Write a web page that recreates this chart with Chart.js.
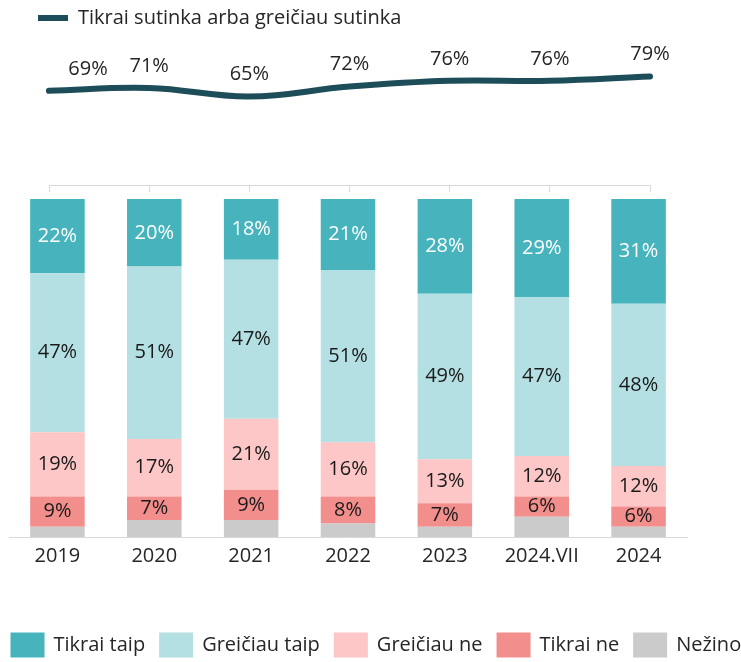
<!DOCTYPE html>
<html><head><meta charset="utf-8">
<script src="https://cdn.jsdelivr.net/npm/chart.js@4.4.1/dist/chart.umd.min.js"></script>
<style>
html,body{margin:0;padding:0;background:#fff;overflow:hidden;width:741px;height:662px;}
#top{position:absolute;left:0;top:0;}
#bot{position:absolute;left:0;top:190px;}
</style></head><body>
<canvas id="top" width="741" height="200"></canvas>
<canvas id="bot" width="741" height="472"></canvas>
<script>
const categories = ['2019','2020','2021','2022','2023','2024.VII','2024'];
const agreeTotal = [69,71,65,72,76,76,79];
const tikraiTaip = [22,20,18,21,28,29,31];
const greiciauTaip = [47,51,47,51,49,47,48];
const greiciauNe = [19,17,21,16,13,12,12];
const tikraiNe = [9,7,9,8,7,6,6];
const nezino = [3,5,5,4,3,6,3];

const FONT = "'Open Sans', sans-serif";
Chart.defaults.font.family = FONT;
Chart.defaults.color = '#262626';

const topLabels = {
  id:'topLabels',
  afterDatasetsDraw(chart){
    const ctx = chart.ctx;
    const meta = chart.getDatasetMeta(0);
    ctx.save();
    ctx.font = "20px " + FONT;
    ctx.fillStyle = '#262626';
    ctx.textAlign = 'center';
    ctx.textBaseline = 'middle';
    meta.data.forEach((pt,i)=>{
      const shift = i === 0 ? 39 : 0;
      ctx.fillText(chart.data.datasets[0].data[i] + '%', pt.x + shift, pt.y - 22);
    });
    ctx.restore();
  }
};

const barLabels = {
  id:'barLabels',
  afterDatasetsDraw(chart){
    const ctx = chart.ctx;
    ctx.save();
    ctx.font = "20px " + FONT;
    ctx.textAlign = 'center';
    ctx.textBaseline = 'middle';
    chart.data.datasets.forEach((ds,di)=>{
      if (ds.noLabel) return;
      const meta = chart.getDatasetMeta(di);
      ctx.fillStyle = ds.labelColor;
      meta.data.forEach((el,i)=>{
        ctx.fillText(ds.data[i] + '%', el.x, (el.y + el.base)/2);
      });
    });
    ctx.restore();
  }
};

const bottomLegend = {
  id:'bottomLegend',
  afterDraw(chart){
    const ctx = chart.ctx;
    ctx.save();
    ctx.font = "20px " + FONT;
    ctx.textAlign = 'left';
    ctx.textBaseline = 'middle';
    const cy = chart.chartArea.bottom + 108;
    let x = 10.5;
    chart.data.datasets.slice().reverse().forEach(ds=>{
      ctx.fillStyle = ds.backgroundColor;
      ctx.fillRect(x, cy - 12.5, 34, 25);
      x += 43;
      ctx.fillStyle = '#262626';
      ctx.fillText(ds.label, x, cy);
      x += ctx.measureText(ds.label).width + 14;
    });
    ctx.restore();
  }
};

new Chart(document.getElementById('top'), {
  type:'line',
  data:{labels:categories, datasets:[{
    label:'Tikrai sutinka arba greičiau sutinka', data:agreeTotal,
    borderColor:'#1c4d59', backgroundColor:'#1c4d59', borderWidth:6,
    borderCapStyle:'round', pointRadius:0, tension:0.4, pointStyle:'line'
  }]},
  options:{
    responsive:false, animation:false,
    layout:{padding:{left:30,right:91,top:0,bottom:0}},
    plugins:{
      legend:{display:true, position:'top', align:'start',
        labels:{usePointStyle:true, pointStyleWidth:30, padding:8, font:{size:20}, color:'#262626'}},
      tooltip:{enabled:false}
    },
    scales:{
      x:{type:'category', offset:false,
        grid:{display:true, drawOnChartArea:false, drawTicks:true, tickLength:7, color:'#d9d9d9', lineWidth:1},
        border:{display:true, color:'#d9d9d9'},
        ticks:{display:false},
        afterFit:s=>{s.height=15;}},
      y:{type:'linear', min:3, max:106, display:true,
        grid:{display:false}, border:{display:false}, ticks:{display:false},
        afterFit:s=>{s.width=19;}}
    }
  },
  plugins:[topLabels]
});

new Chart(document.getElementById('bot'), {
  type:'bar',
  data:{labels:categories, datasets:[
    {label:'Nežino', data:nezino, backgroundColor:'#cbcbcb', noLabel:true},
    {label:'Tikrai ne', data:tikraiNe, backgroundColor:'#f28e8c', labelColor:'#1a1a1a'},
    {label:'Greičiau ne', data:greiciauNe, backgroundColor:'#fdc6c7', labelColor:'#1a1a1a'},
    {label:'Greičiau taip', data:greiciauTaip, backgroundColor:'#b4e0e3', labelColor:'#1a1a1a'},
    {label:'Tikrai taip', data:tikraiTaip, backgroundColor:'#47b4bd', labelColor:'#ffffff'}
  ]},
  options:{
    responsive:false, animation:false,
    layout:{padding:{top:9,left:9,right:54,bottom:45}},
    datasets:{bar:{categoryPercentage:0.563, barPercentage:1, borderWidth:0}},
    plugins:{
      legend:{display:false},
      tooltip:{enabled:false}
    },
    scales:{
      x:{stacked:true, grid:{display:false, drawTicks:false},
        border:{display:true, color:'#d9d9d9'},
        ticks:{padding:7, font:{size:20}, color:'#262626'},
        afterFit:s=>{s.height=80;}},
      y:{type:'linear', stacked:true, min:0, max:100, display:false}
    }
  },
  plugins:[barLabels, bottomLegend]
});
</script>
</body></html>
